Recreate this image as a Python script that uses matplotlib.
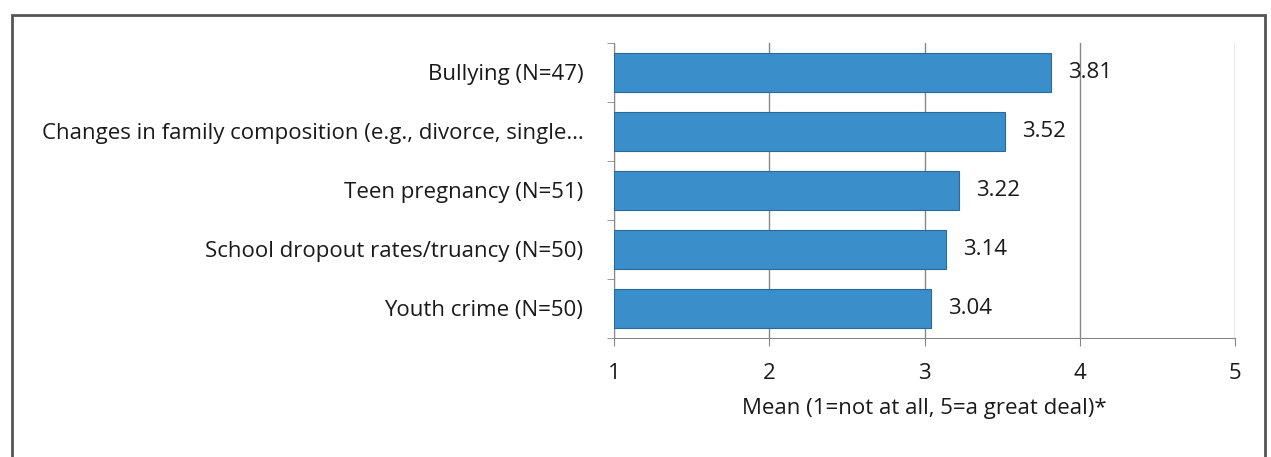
import matplotlib.pyplot as plt
from matplotlib.patches import Rectangle

# datos del grafico (de arriba hacia abajo)
categorias = ["Bullying (N=47)",
              "Changes in family composition (e.g., divorce, single\u2026",
              "Teen pregnancy (N=51)",
              "School dropout rates/truancy (N=50)",
              "Youth crime (N=50)"]
medias = [3.81, 3.52, 3.22, 3.14, 3.04]
etiquetas = ["3.81", "3.52", "3.22", "3.14", "3.04"]
ticks_x = [1, 2, 3, 4, 5]

plt.rcParams['font.family'] = ['Open Sans', 'DejaVu Sans']
fs_txt = 16

fig = plt.figure(figsize=(12.71, 4.57), dpi=100)
ax = fig.add_axes([0.483, 0.2604, 0.489, 0.646])

pos = list(range(len(categorias)))[::-1]
ax.barh(pos, [m - 1 for m in medias], left=1, height=0.67,
        color='#3a8fcb', edgecolor='#2a6a9a', linewidth=0.8, zorder=3)

for p, m, t in zip(pos, medias, etiquetas):
    ax.text(m + 0.11, p, t, va='center', ha='left', fontsize=fs_txt, color='#1a1a1a')

ax.set_xlim(1, 5)
ax.set_ylim(-0.5, 4.5)
ax.set_xticks(ticks_x)
ax.set_xticklabels([str(t) for t in ticks_x], fontsize=fs_txt, color='#1a1a1a')
ax.set_yticks(pos)
ax.set_yticklabels(categorias, fontsize=fs_txt, color='#1a1a1a')
ax.set_yticks([-0.5, 0.5, 1.5, 2.5, 3.5, 4.5], minor=True)
ax.tick_params(axis='y', which='major', length=0, pad=22)
ax.tick_params(axis='y', which='minor', length=5, color='#888888', direction='out')
ax.tick_params(axis='x', length=6, color='#888888', direction='out', pad=12)

ax.grid(axis='x', color='#888888', linewidth=1.0, zorder=0)
for s in ['top', 'right']:
    ax.spines[s].set_visible(False)
ax.spines['left'].set_color('#888888')
ax.spines['bottom'].set_color('#888888')

ax.set_xlabel("Mean (1=not at all, 5=a great deal)*", fontsize=fs_txt, color='#1a1a1a', labelpad=10)

# marco exterior
fig.patches.append(Rectangle((12 / 1271, -0.1), (1265 - 12) / 1271, 1.067,
                             transform=fig.transFigure, fill=False,
                             edgecolor='#555555', linewidth=2.0))

fig.savefig("out.png", dpi=100)
